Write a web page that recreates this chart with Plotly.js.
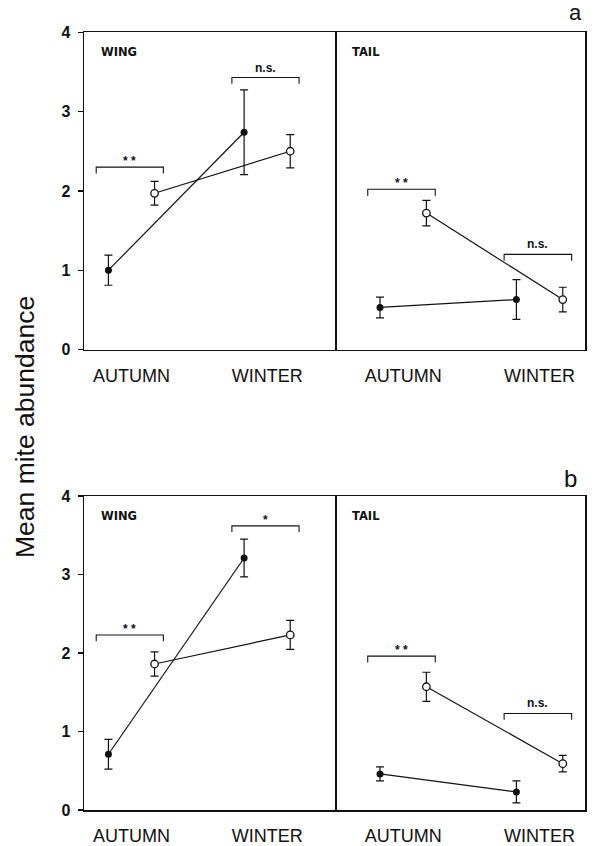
<!DOCTYPE html>
<html>
<head>
<meta charset="utf-8">
<script src="https://cdn.plot.ly/plotly-3.0.1.min.js"></script>
<style>html,body{margin:0;padding:0;background:#fff;}#chart{width:594px;height:846px;}</style>
</head>
<body>
<div id="chart"></div>
<script>
// ---- data ----
const seasons = ['AUTUMN', 'WINTER'];
const tissues = ['WING', 'TAIL'];
const yTicks = [0, 1, 2, 3, 4];

// panel a
const aWingFilled = [1.00, 2.74];
const aWingFilledSE = [0.19, 0.535];
const aWingOpen = [1.97, 2.50];
const aWingOpenSE = [0.15, 0.21];
const aWingSig = ['* *', 'n.s.'];
const aWingSigLevel = [2.30, 3.43];

const aTailFilled = [0.53, 0.63];
const aTailFilledSE = [0.13, 0.25];
const aTailOpen = [1.72, 0.63];
const aTailOpenSE = [0.16, 0.155];
const aTailSig = ['* *', 'n.s.'];
const aTailSigLevel = [2.02, 1.20];

// panel b
const bWingFilled = [0.71, 3.21];
const bWingFilledSE = [0.19, 0.24];
const bWingOpen = [1.86, 2.23];
const bWingOpenSE = [0.155, 0.185];
const bWingSig = ['* *', '*'];
const bWingSigLevel = [2.23, 3.62];

const bTailFilled = [0.46, 0.23];
const bTailFilledSE = [0.09, 0.14];
const bTailOpen = [1.57, 0.59];
const bTailOpenSE = [0.185, 0.105];
const bTailSig = ['* *', 'n.s.'];
const bTailSigLevel = [1.96, 1.23];

// ---- drawing ----
const OFF = 0.17;
const INK = '#111';
const FONT = 'Liberation Sans, Arial, sans-serif';
const idx = seasons.map((s, i) => i + 1);

const traces = [];
const annotations = [];

function panel(xa, ya, filled, filledSE, open, openSE, sig, sigLevel) {
  traces.push({
    type: 'scatter', mode: 'lines+markers', xaxis: xa, yaxis: ya,
    x: idx.map(v => v - OFF), y: filled,
    line: {color: INK, width: 1.2},
    marker: {color: INK, size: 7, symbol: 'circle'},
    error_y: {type: 'data', array: filledSE, visible: true, color: INK, thickness: 1.2, width: 4},
    hoverinfo: 'skip', showlegend: false
  });
  traces.push({
    type: 'scatter', mode: 'lines+markers', xaxis: xa, yaxis: ya,
    x: idx.map(v => v + OFF), y: open,
    line: {color: INK, width: 1.2},
    marker: {color: '#fff', size: 7.5, symbol: 'circle', line: {color: INK, width: 1.3}},
    error_y: {type: 'data', array: openSE, visible: true, color: INK, thickness: 1.2, width: 4},
    hoverinfo: 'skip', showlegend: false
  });
  const bx = [], by = [];
  sig.forEach((s, i) => {
    const c = idx[i], h = sigLevel[i];
    bx.push(c - 0.26, c - 0.26, c + 0.235, c + 0.235, null);
    by.push(h - 0.08, h, h, h - 0.08, null);
    annotations.push({
      xref: xa, yref: ya, x: c - 0.012, y: h, text: s, showarrow: false,
      xanchor: 'center', yanchor: 'bottom', yshift: s === 'n.s.' ? 1 : -3,
      font: {family: FONT, size: 12, color: INK, weight: 'bold'}
    });
  });
  traces.push({
    type: 'scatter', mode: 'lines', xaxis: xa, yaxis: ya, x: bx, y: by,
    line: {color: INK, width: 1.1}, hoverinfo: 'skip', showlegend: false
  });
}

panel('x', 'y', aWingFilled, aWingFilledSE, aWingOpen, aWingOpenSE, aWingSig, aWingSigLevel);
panel('x2', 'y2', aTailFilled, aTailFilledSE, aTailOpen, aTailOpenSE, aTailSig, aTailSigLevel);
panel('x3', 'y3', bWingFilled, bWingFilledSE, bWingOpen, bWingOpenSE, bWingSig, bWingSigLevel);
panel('x4', 'y4', bTailFilled, bTailFilledSE, bTailOpen, bTailOpenSE, bTailSig, bTailSigLevel);

// panel tissue labels
[['x','y',0],['x2','y2',1],['x3','y3',0],['x4','y4',1]].forEach(([xa, ya, t]) => {
  annotations.push({
    xref: xa + ' domain', yref: ya + ' domain', x: 0.06, y: 0.937,
    text: tissues[t], showarrow: false, xanchor: 'left', yanchor: 'middle',
    font: {family: 'DejaVu Sans, sans-serif', size: 11.5, color: INK, weight: 'bold'}
  });
});

annotations.push({xref: 'paper', yref: 'paper', x: 575/594, y: 1 - 13/846, text: 'a', showarrow: false,
  xanchor: 'center', yanchor: 'middle', font: {family: FONT, size: 22, color: INK}});
annotations.push({xref: 'paper', yref: 'paper', x: 570/594, y: 1 - 478/846, text: 'b', showarrow: false,
  xanchor: 'center', yanchor: 'middle', font: {family: FONT, size: 24, color: INK}});
annotations.push({xref: 'paper', yref: 'paper', x: 25/594, y: 1 - 427/846, text: 'Mean mite abundance',
  showarrow: false, textangle: -90, xanchor: 'center', yanchor: 'middle',
  font: {family: FONT, size: 26.5, color: INK}});

const W = 594, H = 846;
const leftDom = [84/W, 335/W], rightDom = [335/W, 585/W];
const topDom = [1 - 349.5/H, 1 - 32.3/H], botDom = [1 - 810/H, 1 - 496/H];

function xaxisCfg(dom, anchor, range) {
  return {
    domain: dom, anchor: anchor, range: range,
    tickmode: 'array', tickvals: idx, ticktext: seasons,
    showline: true, mirror: true, linecolor: INK, linewidth: 1.5,
    ticks: '', ticklabelstandoff: 9, showgrid: false, zeroline: false,
    tickfont: {family: FONT, size: 18, color: INK}, fixedrange: true
  };
}
function yaxisCfg(dom, anchor, isLeft) {
  return {
    domain: dom, anchor: anchor, range: [0, 4],
    side: isLeft ? 'left' : 'right',
    tickmode: 'array', tickvals: yTicks, ticktext: yTicks.map(String),
    showticklabels: isLeft, ticks: isLeft ? 'outside' : '', ticklen: 5, tickwidth: 1.3, tickcolor: INK,
    ticklabelstandoff: 4,
    showline: true, mirror: isLeft, linecolor: INK, linewidth: 1.5,
    showgrid: false, zeroline: false,
    tickfont: {family: FONT, size: 16, color: INK, weight: 'bold'}, fixedrange: true
  };
}

const layout = {
  width: W, height: H,
  margin: {l: 0, r: 0, t: 0, b: 0},
  paper_bgcolor: '#fff', plot_bgcolor: '#fff',
  showlegend: false,
  xaxis: xaxisCfg(leftDom, 'y', [0.65, 2.5]),
  yaxis: yaxisCfg(topDom, 'x', true),
  xaxis2: xaxisCfg(rightDom, 'y2', [0.5, 2.333]),
  yaxis2: yaxisCfg(topDom, 'x2', false),
  xaxis3: xaxisCfg(leftDom, 'y3', [0.65, 2.5]),
  yaxis3: yaxisCfg(botDom, 'x3', true),
  xaxis4: xaxisCfg(rightDom, 'y4', [0.5, 2.333]),
  yaxis4: yaxisCfg(botDom, 'x4', false),
  annotations: annotations
};

Plotly.newPlot('chart', traces, layout, {staticPlot: true, displayModeBar: false});
</script>
</body>
</html>
